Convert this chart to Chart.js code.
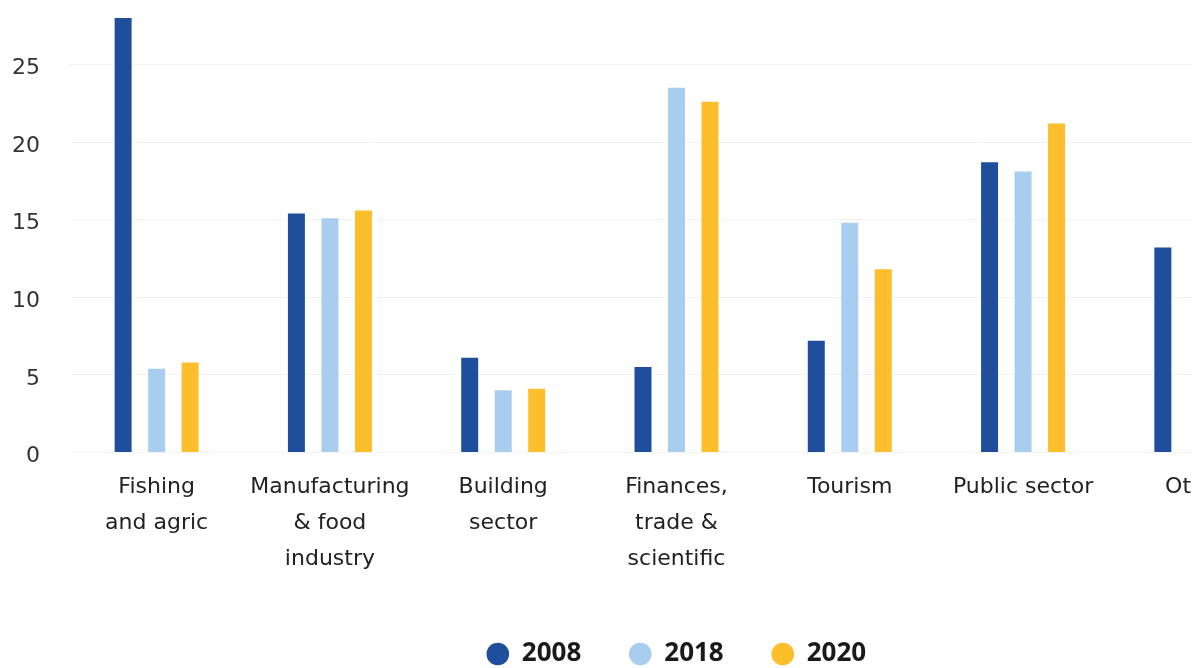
<!DOCTYPE html>
<html lang="en">

<head>
  <meta charset="utf-8">
  <title>Employment by sector</title>
  <script src="https://cdn.jsdelivr.net/npm/chart.js@4.4.1/dist/chart.umd.min.js"></script>
<style>
body {
  margin: 0;
  background: #ffffff;
  overflow: hidden;
}
.chart-box {
  width: 1300px;
  height: 677px;
}
</style>
</head>

<body>
  <div class="chart-box">
    <canvas id="sector-chart" width="1300" height="677"></canvas>
  </div>

<script>

// sector labels (split over lines like on the axis)
var sectors = [
  ["Fishing", "and agric"],
  ["Manufacturing", "& food", "industry"],
  ["Building", "sector"],
  ["Finances,", "trade &", "scientific"],
  "Tourism",
  "Public sector",
  "Other"
];
var years = ["2008", "2018", "2020"];
var share2008 = [28.0, 15.4, 6.1, 5.5, 7.2, 18.7, 13.2];
var share2018 = [5.4, 15.1, 4.0, 23.5, 14.8, 18.1, null];
var share2020 = [5.8, 15.6, 4.1, 22.6, 11.8, 21.2, null];
var yTicks = [0, 5, 10, 15, 20, 25];

var colors = ["#1f4f9c", "#a9cdee", "#fdbe2c"];

var axisFont = { family: "'DejaVu Sans', sans-serif", size: 22, lineHeight: 1.63 };

// labels may hang over the plot edges, so drop the extra padding they ask for
function noEdgePadding(scale) {
  scale.paddingTop = 0;
  scale.paddingBottom = 0;
  scale.paddingLeft = 0;
  scale.paddingRight = 0;
}

new Chart(document.getElementById("sector-chart"), {
  type: 'bar',
  data: {
    labels: sectors,
    datasets: [
      { label: years[0], data: share2008, backgroundColor: colors[0] },
      { label: years[1], data: share2018, backgroundColor: colors[1] },
      { label: years[2], data: share2020, backgroundColor: colors[2] }
    ]
  },
  options: {
    responsive: false,
    animation: false,
    categoryPercentage: 0.58,
    barPercentage: 0.507,
    layout: {
      padding: { top: 18, left: 12, right: 17, bottom: 0 }
    },
    scales: {
      x: {
        grid: { display: false, drawTicks: false },
        border: { display: false },
        ticks: {
          color: '#222',
          font: axisFont,
          padding: 17,
          maxRotation: 0,
          autoSkip: false
        },
        afterFit: function (scale) {
          noEdgePadding(scale);
          scale.height -= 1;
        }
      },
      y: {
        min: 0,
        max: 28,
        grid: { color: '#f2f2f2', drawTicks: false },
        border: { display: false },
        ticks: {
          color: '#333',
          font: axisFont,
          padding: 30,
          labelOffset: 4
        },
        afterBuildTicks: function (scale) {
          scale.ticks = yTicks.map(function (v) { return { value: v }; });
        },
        afterFit: function (scale) {
          noEdgePadding(scale);
          scale.width -= 30;
        }
      }
    },
    plugins: {
      tooltip: { enabled: false },
      legend: {
        position: 'bottom',
        fullSize: false,
        labels: {
          usePointStyle: true,
          pointStyle: 'circle',
          boxWidth: 22,
          boxHeight: 16,
          padding: 48,
          color: '#1a1a1a',
          font: { family: "'Open Sans', sans-serif", size: 26, weight: 'bold' }
        }
      }
    }
  }
});

</script>
</body>

</html>
